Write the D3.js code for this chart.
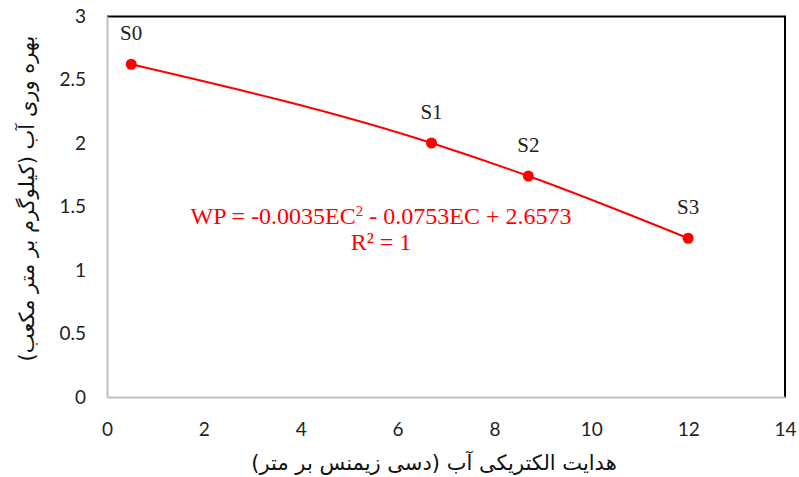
<!DOCTYPE html>
<head>
  <meta charset="utf-8">
  <script src="https://d3js.org/d3.v7.min.js"></script>
  <style>
    body { margin: 0; background: white; }
    .tick text { font-family: Lato, "Open Sans", sans-serif; font-size: 19px; fill: #222; }
    .lbl { font-family: "Liberation Serif", serif; font-size: 21px; fill: #222; }
    .eq { font-family: "Liberation Serif", serif; font-size: 24px; fill: #ff0000; }
    .title { font-family: "DejaVu Sans", sans-serif; font-size: 21px; fill: #111; }
  </style>
</head>

<body>
  <svg width="799" height="477"></svg>

  <script>
    // data
    const names = ['S0', 'S1', 'S2', 'S3'];
    const ec = [0.5, 6.7, 8.7, 12];
    const wp = [2.62, 2.0, 1.74, 1.25];
    const xTicks = [0, 2, 4, 6, 8, 10, 12, 14];
    const yTicks = [0, 0.5, 1, 1.5, 2, 2.5, 3];
    const eqText = ['WP = -0.0035EC', '2', ' - 0.0753EC + 2.6573'];
    const r2Text = 'R² = 1';
    const xTitle = 'هدایت الکتریکی آب (دسی زیمنس بر متر)';
    const yTitle = 'بهره وری آب (کیلوگرم بر متر مکعب)';

    const svg = d3.select('svg');
    const mLeft = 107, mRight = 785, mTop = 16, mBottom = 397;

    const x = d3.scaleLinear().domain([0, 14]).range([mLeft, mRight]);
    const y = d3.scaleLinear().domain([0, 3]).range([mBottom, mTop]);

    // frame: top/right dark, axes gray
    svg.append('line').attr('x1', mLeft).attr('x2', mRight + 1).attr('y1', mTop + 0.5).attr('y2', mTop + 0.5)
      .attr('stroke', '#000').attr('stroke-width', 2);
    svg.append('line').attr('x1', mRight).attr('x2', mRight).attr('y1', mTop).attr('y2', mBottom + 1)
      .attr('stroke', '#000').attr('stroke-width', 2);

    const xAxis = svg.append('g').attr('transform', `translate(0,${mBottom})`)
      .call(d3.axisBottom(x).tickValues(xTicks).tickSize(0).tickPadding(26));
    xAxis.select('.domain').attr('stroke', '#bfbfbf').attr('stroke-width', 2);

    const yAxis = svg.append('g').attr('transform', `translate(${mLeft},0)`)
      .call(d3.axisLeft(y).tickValues(yTicks).tickFormat(d => d).tickSize(0).tickPadding(21));
    yAxis.select('.domain').attr('stroke', '#bfbfbf').attr('stroke-width', 2);

    const pts = names.map((n, i) => ({ n, x: ec[i], y: wp[i] }));

    const line = d3.line().x(d => x(d.x)).y(d => y(d.y)).curve(d3.curveMonotoneX);
    svg.append('path').datum(pts).attr('d', line)
      .attr('fill', 'none').attr('stroke', '#ff0000').attr('stroke-width', 2);

    svg.selectAll('.pt').data(pts).enter().append('circle')
      .attr('class', 'pt')
      .attr('cx', d => x(d.x)).attr('cy', d => y(d.y)).attr('r', 5.5)
      .attr('fill', '#ff0000');

    svg.selectAll('.lbl').data(pts).enter().append('text')
      .attr('class', 'lbl')
      .attr('x', d => x(d.x)).attr('y', d => y(d.y) - 24)
      .attr('text-anchor', 'middle')
      .text(d => d.n);

    const eq = svg.append('text').attr('class', 'eq')
      .attr('x', 381).attr('y', 224).attr('text-anchor', 'middle');
    eq.append('tspan').text(eqText[0]);
    eq.append('tspan').attr('dy', -8).attr('font-size', 15).text(eqText[1]);
    eq.append('tspan').attr('dy', 8).text(eqText[2]);
    svg.append('text').attr('class', 'eq')
      .attr('x', 381).attr('y', 250).attr('text-anchor', 'middle').text(r2Text);

    svg.append('text').attr('class', 'title')
      .attr('x', (mLeft + mRight) / 2 - 12).attr('y', 470)
      .attr('text-anchor', 'middle').attr('direction', 'rtl').text(xTitle);

    svg.append('text').attr('class', 'title')
      .attr('font-size', 22)
      .attr('transform', `translate(34,${(mTop + mBottom) / 2 - 8}) rotate(-90)`)
      .attr('text-anchor', 'middle').attr('direction', 'rtl').text(yTitle);
  </script>
</body>
